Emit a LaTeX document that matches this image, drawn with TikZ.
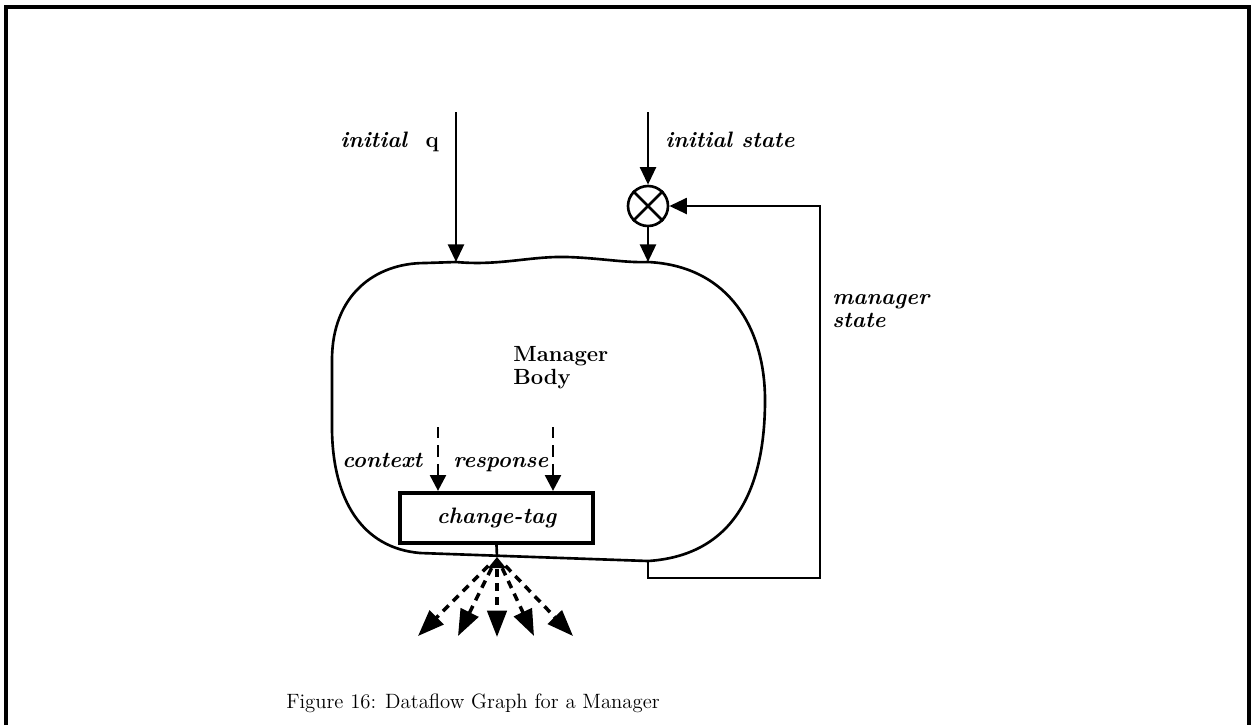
\documentclass[tikz,border=0pt]{standalone}
\usetikzlibrary{arrows.meta}
\begin{document}
\begin{tikzpicture}[x=0.02cm,y=-0.02cm,
  lbl/.style={font=\fontsize{12.7}{15}\selectfont\bfseries\itshape,inner sep=0pt},
  plain/.style={font=\fontsize{12.5}{15}\selectfont\bfseries,inner sep=0pt},
  flow/.style={line width=1.6pt,-{Triangle[length=10pt,width=9pt]}},
  dflow/.style={line width=1.6pt,dash pattern=on 6.5pt off 4pt,-{Triangle[length=9pt,width=9pt]}},
  fan/.style={line width=2pt,dash pattern=on 4.5pt off 3.5pt,shorten <=7pt,-{Triangle[length=15pt,width=11pt]}},
  bodyline/.style={line width=1.5pt},
  frame/.style={line width=1.8pt}]
\useasboundingbox (0,0) rectangle (1253,725);

% outer frame (open at the bottom)
\draw[frame] (6,725) -- (6,7) -- (1249,7) -- (1249,725);

% manager body outline
\draw[bodyline] (456,262) .. controls (500,266) and (530,256) .. (567,257)
  .. controls (600,258) and (625,263) .. (648,262)
  .. controls (730,266) and (765,330) .. (765,400)
  .. controls (765,480) and (740,555) .. (648,561)
  -- (420,553)
  .. controls (362,548) and (333,500) .. (332,430)
  -- (332,360)
  .. controls (332,295) and (375,263) .. (425,263)
  -- cycle;

% combining node for the state
\node[circle,draw,line width=1.5pt,minimum size=0.8cm,inner sep=0pt] (mix) at (648,206) {};
\draw[line width=1.5pt] (mix.north west) -- (mix.south east)
  (mix.north east) -- (mix.south west);

% entry points
\coordinate (q0) at (456,112);
\coordinate (q1) at (456,262);
\coordinate (s0) at (648,112);
\coordinate (s1) at (648,262);
\coordinate (b0) at (648,561);
\coordinate (l1) at (648,578);
\coordinate (l2) at (820,578);
\coordinate (l3) at (820,206);

\draw[flow] (q0) -- (q1);
\draw[flow] (s0) -- (mix.north);
\draw[flow] (mix.south) -- (s1);
\draw[flow] (b0) -- (l1) -- (l2) -- (l3) -- (mix.east);

% labels
\node[lbl,anchor=base west] (iq) at (340,147) {initial \ \textup{q}};
\node[lbl,anchor=base west] (is) at (665,147) {initial state};
\node[lbl,anchor=base west] (ms1) at (832,304) {manager};
\node[lbl,anchor=base west] (ms2) at (832,327) {state};
\node[plain,anchor=base west] (mb1) at (513,361) {Manager};
\node[plain,anchor=base west] (mb2) at (513,384) {Body};

% change-tag box and its inputs
\node[draw,line width=2.4pt,minimum width=3.86cm,minimum height=1cm,inner sep=0pt,
  font=\fontsize{12.7}{15}\selectfont\bfseries\itshape] (ct) at (496.5,518) {change-tag};
\coordinate (c0) at (438,427);
\coordinate (r0) at (553,427);
\draw[dflow] (c0) -- (c0 |- ct.north);
\draw[dflow] (r0) -- (r0 |- ct.north);
\node[lbl,anchor=base west] (cx) at (342,467) {context};
\node[lbl,anchor=base west] (rs) at (453,467) {response};

% fan-out of the change-tag output
\coordinate (f0) at (497,557);
\draw[line width=1.5pt] (ct.south) -- (f0);
\fill (f0) -- (488,568) -- (506,568) -- cycle;
\coordinate (t1) at (418,636);
\coordinate (t2) at (458,636);
\coordinate (t3) at (497,637);
\coordinate (t4) at (534,636);
\coordinate (t5) at (573,636);
\foreach \t in {t1,t2,t3,t4,t5} \draw[fan] (f0) -- (\t);

% caption
\node[font=\fontsize{11.8}{14}\selectfont,inner sep=0pt] (cap) at (473,703) {Figure 16: Dataflow Graph for a Manager};
\end{tikzpicture}
\end{document}
